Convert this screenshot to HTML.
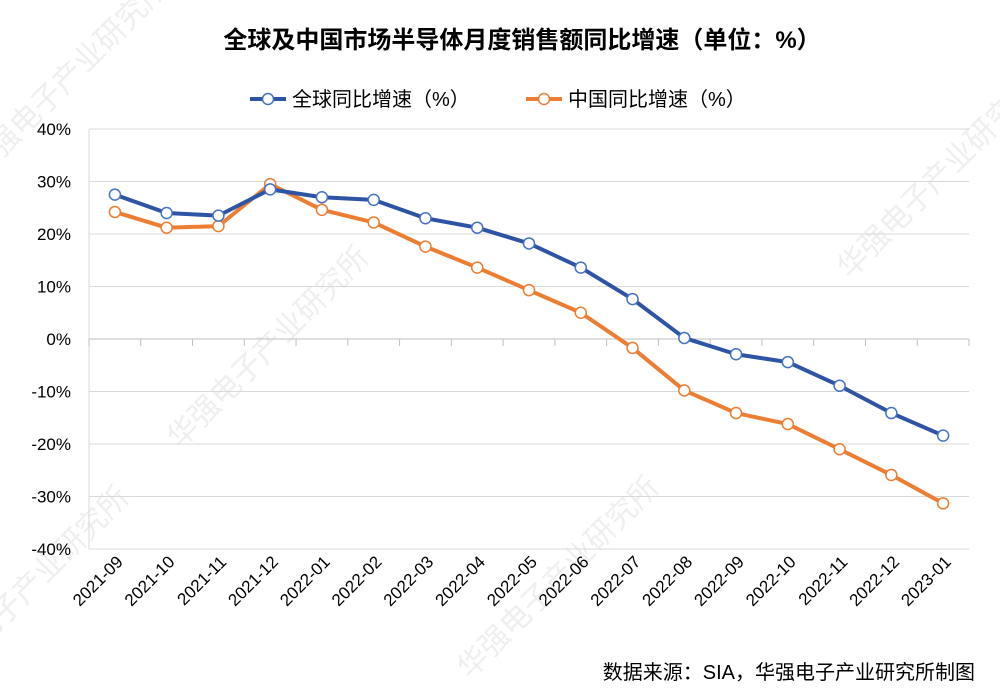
<!DOCTYPE html>
<html><head><meta charset="utf-8">
<style>
html,body{margin:0;padding:0;background:#fff;}
body{width:1000px;height:698px;overflow:hidden;font-family:"Liberation Sans","Noto Sans CJK SC",sans-serif;}
svg{display:block;}
</style></head>
<body>
<svg id="chart" width="1000" height="698" xmlns="http://www.w3.org/2000/svg" font-family="Liberation Sans, Noto Sans CJK SC, sans-serif" overflow="hidden">
<g id="wm" fill="#000" opacity="0.07" font-size="30">
<text transform="translate(180,450) rotate(-45)">华强电子产业研究所</text>
<text transform="translate(470,680) rotate(-45)">华强电子产业研究所</text>
<text transform="translate(850,280) rotate(-45)">华强电子产业研究所</text>
<text transform="translate(-20,180) rotate(-45)">华强电子产业研究所</text>
<text transform="translate(-60,690) rotate(-45)">华强电子产业研究所</text>
</g>
<text x="522" y="48" text-anchor="middle" font-size="24" font-weight="bold" fill="#000">全球及中国市场半导体月度销售额同比增速（单位：%）</text>
<g font-size="20" fill="#000">
<g>
<line x1="250" y1="99" x2="286" y2="99" stroke="#2e54a5" stroke-width="4"/>
<circle cx="268" cy="99" r="5.5" fill="#fff" stroke="#4472c4" stroke-width="1.5"/>
<text x="292" y="106">全球同比增速（%）</text></g>
<g>
<line x1="526" y1="99" x2="562" y2="99" stroke="#ed7d31" stroke-width="4"/>
<circle cx="544" cy="99" r="5.5" fill="#fff" stroke="#ed7d31" stroke-width="1.5"/>
<text x="568" y="106">中国同比增速（%）</text></g>
</g>
<g id="grid"></g><g id="axes"></g><g id="series"></g>
<text x="975" y="679" text-anchor="end" font-size="20" fill="#000">数据来源：SIA，华强电子产业研究所制图</text>
</svg>
<script>
const categories=["2021-09","2021-10","2021-11","2021-12","2022-01","2022-02","2022-03","2022-04","2022-05","2022-06","2022-07","2022-08","2022-09","2022-10","2022-11","2022-12","2023-01"];
const globalValues=[27.5,24,23.5,28.5,27,26.5,23,21.2,18.2,13.6,7.6,0.2,-2.9,-4.4,-8.9,-14.1,-18.4];
const chinaValues=[24.2,21.2,21.5,29.5,24.6,22.2,17.6,13.6,9.3,5,-1.7,-9.8,-14.1,-16.2,-21,-25.9,-31.3];
const yTicks=[40,30,20,10,0,-10,-20,-30,-40];
const NS="http://www.w3.org/2000/svg";
const L=89,R=969,T=129,B=549,yMin=-40,yMax=40;
const bw=(R-L)/categories.length;
function xs(i){return L+bw*(i+0.5);}
function ys(v){return T+(yMax-v)/(yMax-yMin)*(B-T);}
function mk(tag,attrs,parent){const e=document.createElementNS(NS,tag);for(const k in attrs)e.setAttribute(k,attrs[k]);parent.appendChild(e);return e;}
const grid=document.getElementById('grid'),axes=document.getElementById('axes'),series=document.getElementById('series');
yTicks.forEach(t=>{
 const y=ys(t);
 if(t!==0){const g=mk('line',{x1:L,x2:R,y1:y,y2:y,stroke:'#d9d9d9','stroke-width':1},grid);
 
 }
 const lb=mk('text',{x:L-18,y:y+6,'text-anchor':'end','font-size':17,fill:'#000'},axes);
 lb.textContent=t+'%';
 
 
});
const ax=mk('line',{x1:L,x2:R,y1:ys(0),y2:ys(0),stroke:'#bfbfbf','stroke-width':1},axes);


const va=mk('line',{x1:L,x2:L,y1:T,y2:B,stroke:'#d9d9d9','stroke-width':1},axes);


for(let i=0;i<=categories.length;i++){
 const x=L+bw*i;
 const tk=mk('line',{x1:x,x2:x,y1:ys(0),y2:ys(0)+7,stroke:'#bfbfbf','stroke-width':1},axes);
 
 
}
categories.forEach((c,i)=>{
 const x=xs(i)+9,y=B+14;
 const t=mk('text',{transform:`translate(${x},${y}) rotate(-45)`,'text-anchor':'end','font-size':17,fill:'#000'},axes);
 t.textContent=c;
 
 
});
function draw(vals,color,mcol,name){
 const g=mk('g',{},series);
 
 
 const p=mk('polyline',{points:vals.map((v,i)=>xs(i)+','+ys(v)).join(' '),fill:'none',stroke:color,'stroke-width':4,'stroke-linejoin':'round'},g);
 
 
 vals.forEach((v,i)=>{
  const c=mk('circle',{cx:xs(i),cy:ys(v),r:5.5,fill:'#fff',stroke:mcol,'stroke-width':1.5},g);
  
  
 });
}
draw(chinaValues,'#ed7d31','#ed7d31','china');
draw(globalValues,'#2e54a5','#4472c4','global');
</script>
</body></html>
